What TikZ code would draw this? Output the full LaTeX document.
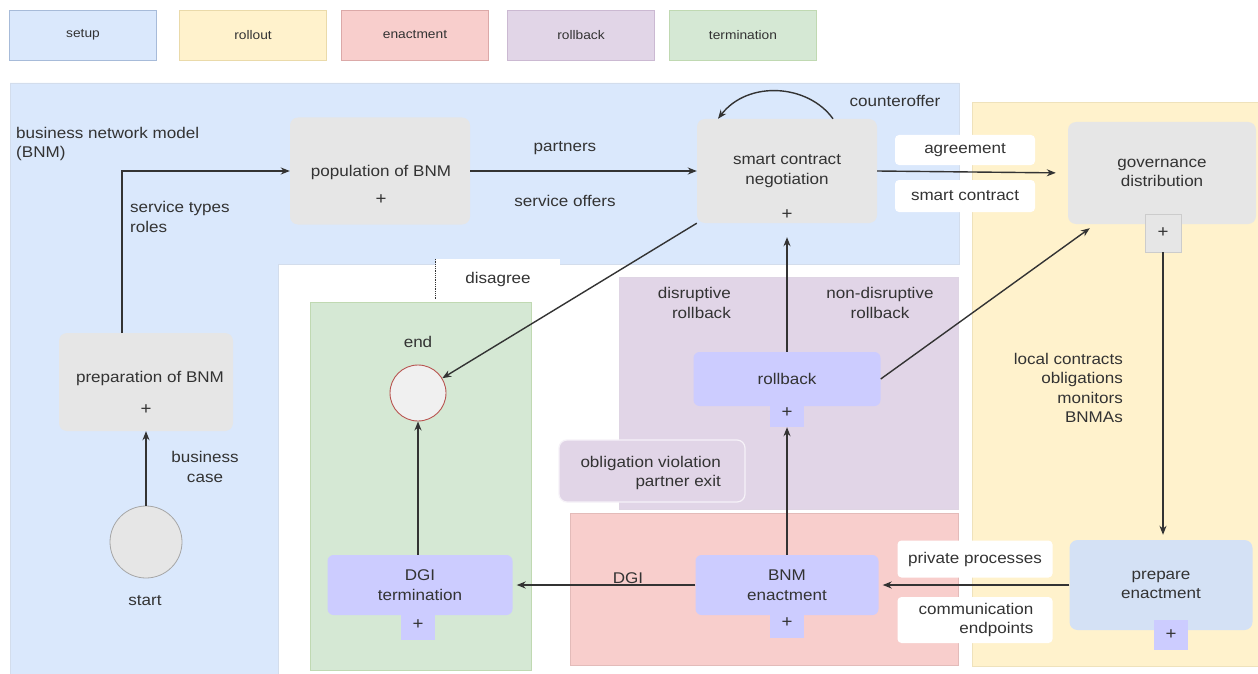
\documentclass[tikz,border=0pt]{standalone}
\usepackage{fontspec}
\setmainfont{Liberation Sans}[FakeStretch=1.1]
\usetikzlibrary{arrows.meta}
\definecolor{setupF}{HTML}{DAE8FC}\definecolor{setupD}{HTML}{6C8EBF}
\definecolor{rollF}{HTML}{FFF2CC}\definecolor{rollD}{HTML}{D6B656}
\definecolor{enactF}{HTML}{F8CECC}\definecolor{enactD}{HTML}{B85450}
\definecolor{rbF}{HTML}{E1D5E7}\definecolor{rbD}{HTML}{9673A6}
\definecolor{termF}{HTML}{D5E8D4}\definecolor{termD}{HTML}{82B366}
\definecolor{grayF}{HTML}{E6E6E6}
\definecolor{lav}{HTML}{CCCCFF}
\definecolor{prepF}{HTML}{D4E1F5}
\definecolor{ink}{HTML}{333333}
\begin{document}
\begin{tikzpicture}[x=1pt,y=-1pt,
  every node/.style={font=\fontsize{15.5}{19.5}\selectfont, text=ink, inner sep=0pt},
  legend/.style={draw, line width=0.8, minimum width=147, minimum height=50,
    font=\fontsize{12.5}{14}\selectfont},
  region/.style={line width=0.6},
  graybox/.style={fill=grayF, rounded corners=8, align=center},
  lavbox/.style={fill=lav, rounded corners=6, align=center},
  plusbox/.style={minimum width=34, minimum height=30, font=\fontsize{17}{17}\selectfont},
  tag/.style={fill=white, rounded corners=4, align=center},
  flow/.style={draw=ink, line width=1.4, -{Stealth[length=9,width=7]}},
]
\useasboundingbox (0,0) rectangle (1258,674);
\fill[white] (0,0) rectangle (1258,674);

% legend
\node[legend, fill=setupF, draw=setupD!60] (lg-setup) at (83,35) {setup};
\node[legend, fill=rollF, draw=rollD!50] (lg-roll) at (253,35) {rollout};
\node[legend, fill=enactF, draw=enactD!50] (lg-enact) at (415,35) {enactment};
\node[legend, fill=rbF, draw=rbD!50] (lg-rb) at (581,35) {rollback};
\node[legend, fill=termF, draw=termD!50] (lg-term) at (743,35) {termination};

% phase areas
\filldraw[region, fill=setupF, draw=setupD!30]
  (10,83) -- (959,83) -- (959,264) -- (278,264) -- (278,674) -- (10,674) -- cycle;
\filldraw[region, fill=rollF, draw=rollD!40] (972,102) rectangle (1258,666);
\filldraw[region, fill=termF, draw=termD!50] (310,302) rectangle (531,670);
\filldraw[region, fill=rbF, draw=rbD!30] (619,277) rectangle (958,509);
\filldraw[region, fill=enactF, draw=enactD!40] (570,513) rectangle (958,665);

% setup tasks
\node[graybox, minimum width=180, minimum height=107] (pop) at (380,171) {};
\node (pop-t) at (381,172) {population of BNM};
\node[plusbox] (pop-p) at (381,200) {+};

\node[graybox, minimum width=174, minimum height=98] (prep) at (146,382) {};
\node (prep-t) at (150,378) {preparation of BNM};
\node[plusbox] (prep-p) at (146,410) {+};

\node[graybox, minimum width=180, minimum height=104] (neg) at (787,171) {smart contract\\negotiation};
\node[plusbox, minimum height=44] (neg-p) at (787,215) {+};

\node[circle, draw=gray!70, fill=grayF, line width=0.8, minimum size=72] (startc) at (146,542) {};
\node (start-t) at (145,601) {start};

% rollout tasks
\node[graybox, minimum width=188, minimum height=102] (gov) at (1162,173) {governance\\distribution};
\node[plusbox, minimum width=36, minimum height=38, fill=grayF, draw=gray!40] (gov-p) at (1163,233) {+};

\node[fill=prepF, rounded corners=8, minimum width=183, minimum height=90, align=center] (prepen) at (1161,585) {prepare\\enactment};
\node[plusbox, fill=lav] (prepen-p) at (1171,635) {+};

% rollback, enactment, termination tasks
\node[lavbox, minimum width=187, minimum height=54] (rb) at (787,379) {rollback};
\node[plusbox, fill=lav, minimum height=28] (rb-p) at (787,413) {+};

\node[lavbox, minimum width=183, minimum height=60] (bnm) at (787,585) {BNM\\enactment};
\node[plusbox, fill=lav] (bnm-p) at (787,623) {+};

\node[lavbox, minimum width=185, minimum height=60] (dgi) at (420,585) {DGI\\termination};
\node[plusbox, fill=lav] (dgi-p) at (418,625) {+};

\node[circle, draw=enactD, fill=grayF!60, line width=0.9, minimum size=56] (endc) at (418,393) {};
\node (end-t) at (418,342) {end};

\node[fill=rbF, draw=white!70!rbF, line width=1.2, rounded corners=8, minimum width=186, minimum height=62] (oblig) at (652,471) {};
\node[align=right, anchor=east] (oblig-t) at (721,473) {obligation violation\\partner exit};

% free text
\node[align=left, anchor=west] (bnm-model) at (16,144) {business network model\\(BNM)};
\node[align=right, anchor=east] (rb-dis) at (731,303) {disruptive\\rollback};
\node[align=center] (rb-non) at (880,303) {non-disruptive\\rollback};
\node[align=right, anchor=east] (local) at (1123,388) {local contracts\\obligations\\monitors\\BNMAs};

% connectors
\coordinate (prep-out) at (122,333);
\draw[flow] (prep-out) |- (pop.west);
\node[align=left, anchor=west] (svc) at (130,217) {service types\\roles};

\draw[flow] (startc.north) -- (startc.north |- prep.south);
\node[align=center] (bcase) at (205,467) {business\\case};

\draw[flow] (pop.east) -- (neg.west);
\node (partners) at (565,148) {partners};
\node (offers) at (565,201) {service offers};

\draw[flow] ([xshift=46]neg.north) .. controls (808,84) and (748,80) .. ([xshift=-69]neg.north);
\node (counter) at (895,101) {counteroffer};

\draw[flow, shorten >=12pt] (neg.east) -- (gov.west);
\node[tag, minimum width=140, minimum height=30] (agree) at (965,150) {agreement};
\node[tag, minimum width=140, minimum height=32] (sc) at (965,196) {smart contract};

\draw[flow, shorten >=5pt] (gov-p.south) -- (gov-p.south |- prepen.north);

\draw[flow, shorten >=4pt] (prepen.west) -- (bnm.east);
\node[tag, minimum width=155, minimum height=37] (priv) at (975,559) {private processes};
\node[tag, align=right, minimum width=155, minimum height=46] (comm) at (975,620) {\hspace*{2pt}communication\\endpoints};

\draw[flow, shorten >=4pt] (bnm.west) -- (dgi.east);
\node (dgi-l) at (628,578) {DGI};

\draw[flow] (bnm.north) -- (rb-p.south);
\draw[flow] (rb.north) -- (neg-p.south);
\draw[flow] (rb.east) -- ([shift={(22,4)}]gov.south west);
\draw[flow] (neg.south west) -- (endc);
\draw[flow] (dgi.north -| endc) -- (endc.south);

\node[tag, rounded corners=0, minimum width=124, minimum height=40] (disagree) at (498,279) {disagree};
\draw[densely dotted, ink, line width=0.8] (disagree.north west) -- (disagree.south west);
\end{tikzpicture}
\end{document}
